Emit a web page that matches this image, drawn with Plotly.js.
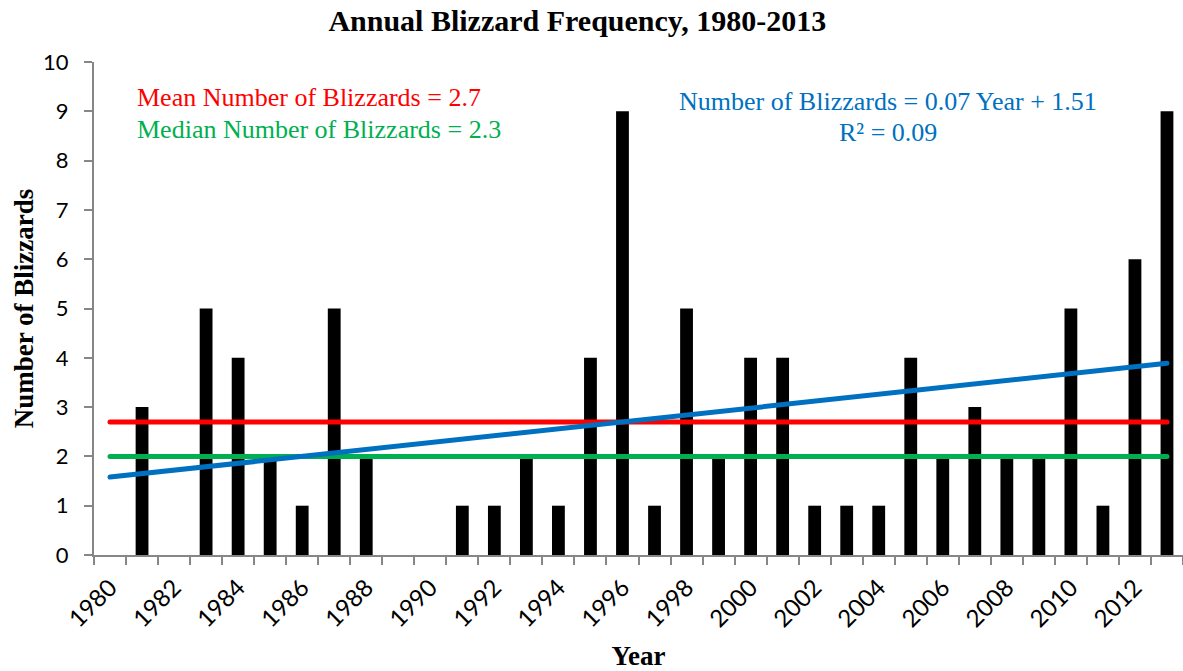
<!DOCTYPE html>
<html>
<head>
<meta charset="utf-8">
<script src="https://cdn.plot.ly/plotly-3.0.1.min.js"></script>
<style>
html, body { margin: 0; padding: 0; background: #fff; }
#chart { width: 1183px; height: 671px; }
.scatterlayer path.js-line { stroke-linecap: round; }
</style>
</head>
<body>
<div id="chart"></div>
<script>
// ---- data ----
const years = [1980, 1981, 1982, 1983, 1984, 1985, 1986, 1987, 1988, 1989,
               1990, 1991, 1992, 1993, 1994, 1995, 1996, 1997, 1998, 1999,
               2000, 2001, 2002, 2003, 2004, 2005, 2006, 2007, 2008, 2009,
               2010, 2011, 2012, 2013];
const blizzards = [0, 3, 0, 5, 4, 2, 1, 5, 2, 0,
                   0, 1, 1, 2, 1, 4, 9, 1, 5, 2,
                   4, 4, 1, 1, 1, 4, 2, 3, 2, 2,
                   5, 1, 6, 9];
const lineYears = [1980, 2013];
const meanValues = [2.7, 2.7];
const medianValues = [2.0, 2.0];
const trendValues = [1.58, 3.89];
const tickYears = [1980, 1982, 1984, 1986, 1988, 1990, 1992, 1994, 1996, 1998,
                   2000, 2002, 2004, 2006, 2008, 2010, 2012];
const tickLabels = tickYears.map(String);
const meanLabel = 'Mean Number of Blizzards = 2.7';
const medianLabel = 'Median Number of Blizzards = 2.3';
const trendLabel1 = 'Number of Blizzards = 0.07 Year + 1.51';
const trendLabel2 = 'R² = 0.09';

const serif = 'Liberation Serif, Times New Roman, serif';
const sans = 'Lato, Carlito, Calibri, sans-serif';
const axisGray = '#868686';

const traces = [
  { type: 'bar', x: years, y: blizzards, marker: { color: '#000000' },
    hoverinfo: 'x+y', showlegend: false },
  { type: 'scatter', mode: 'lines', x: lineYears, y: meanValues,
    line: { color: '#FF0000', width: 5 }, showlegend: false },
  { type: 'scatter', mode: 'lines', x: lineYears, y: medianValues,
    line: { color: '#00B050', width: 5 }, showlegend: false },
  { type: 'scatter', mode: 'lines', x: lineYears, y: trendValues,
    line: { color: '#0070C0', width: 5 }, showlegend: false }
];

const layout = {
  width: 1183, height: 671,
  margin: { l: 94, r: 0, t: 62, b: 116 },
  paper_bgcolor: '#ffffff', plot_bgcolor: '#ffffff',
  bargap: 0.6,
  showlegend: false,
  title: {
    text: 'Annual Blizzard Frequency, 1980-2013',
    font: { family: serif, size: 30, color: '#000', weight: 'bold' },
    xref: 'container', x: 0.488, xanchor: 'center',
    yref: 'container', y: 0.969, yanchor: 'middle'
  },
  xaxis: {
    type: 'linear', range: [1979.5, 2013.5], fixedrange: true,
    tickmode: 'array', tickvals: tickYears, ticktext: tickLabels,
    tickangle: -45, ticks: '', ticklabelstandoff: 7,
    tickfont: { family: sans, size: 24, color: '#000' },
    minor: { ticks: 'outside', tickmode: 'linear', tick0: 1979.5, dtick: 1,
             ticklen: 8, tickwidth: 2, tickcolor: axisGray, showgrid: false },
    showline: true, linecolor: axisGray, linewidth: 2,
    showgrid: false, zeroline: false, automargin: false,
    title: { text: 'Year', standoff: 16,
             font: { family: serif, size: 27, color: '#000', weight: 'bold' } }
  },
  yaxis: {
    range: [0, 10], dtick: 1, tick0: 0, fixedrange: true,
    ticks: 'outside', ticklen: 8, tickwidth: 2, tickcolor: axisGray,
    ticklabelstandoff: 11,
    tickfont: { family: sans, size: 22, color: '#000' },
    showline: true, linecolor: axisGray, linewidth: 2,
    showgrid: false, zeroline: false, automargin: false,
    title: { text: 'Number of Blizzards', standoff: 2,
             font: { family: serif, size: 27, color: '#000', weight: 'bold' } }
  },
  annotations: [
    { text: meanLabel, xref: 'paper', yref: 'paper', x: 0.0376, y: 0.927,
      xanchor: 'left', yanchor: 'middle', showarrow: false,
      font: { family: serif, size: 26, color: '#FF0000' } },
    { text: medianLabel, xref: 'paper', yref: 'paper', x: 0.0376, y: 0.864,
      xanchor: 'left', yanchor: 'middle', showarrow: false,
      font: { family: serif, size: 26, color: '#00B050' } },
    { text: trendLabel1, xref: 'paper', yref: 'paper', x: 0.7287, y: 0.919,
      xanchor: 'center', yanchor: 'middle', showarrow: false,
      font: { family: serif, size: 26, color: '#0070C0' } },
    { text: trendLabel2, xref: 'paper', yref: 'paper', x: 0.7287, y: 0.858,
      xanchor: 'center', yanchor: 'middle', showarrow: false,
      font: { family: serif, size: 26, color: '#0070C0' } }
  ]
};

Plotly.newPlot('chart', traces, layout, { staticPlot: true, displayModeBar: false });
</script>
</body>
</html>
